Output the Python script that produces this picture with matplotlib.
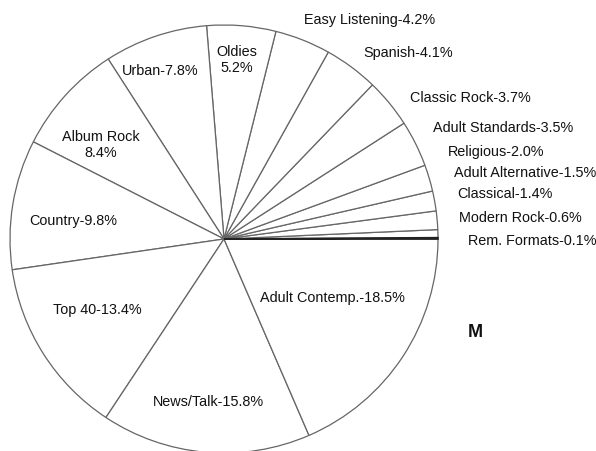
import matplotlib.pyplot as plt

plt.rcParams['font.family'] = ['Liberation Sans', 'DejaVu Sans']

# format shares, counter-clockwise from 3 o'clock
formats = ['Rem. Formats', 'Modern Rock', 'Classical', 'Adult Alternative',
           'Religious', 'Adult Standards', 'Classic Rock', 'Spanish',
           'Easy Listening', 'Oldies', 'Urban', 'Album Rock', 'Country',
           'Top 40', 'News/Talk', 'Adult Contemp.']
shares = [0.1, 0.6, 1.4, 1.5, 2.0, 3.5, 3.7, 4.1, 4.2, 5.2, 7.8, 8.4, 9.8,
          13.4, 15.8, 18.5]
# joiner between name and value ('\n' puts the value on a second line)
joiners = ['-'] * 9 + ['\n', '-', '\n', '-', '-', '-', '-']

# label centres in pixel units (origin top-left)
label_xy = [(532, 241), (520, 218), (505, 194), (525, 173), (496, 152),
            (503, 128), (470, 98), (408, 53), (370, 20), (237, 60),
            (160, 71), (101, 145), (73, 221), (97, 310), (208, 402),
            (332, 298)]

W, H = 596, 452
fig = plt.figure(figsize=(W / 100, H / 100), dpi=100)
ax = fig.add_axes([0, 0, 1, 1])
ax.set_xlim(0, W)
ax.set_ylim(0, H)
ax.set_aspect('equal')
ax.axis('off')

# the tiny first slice reads as a heavy black spoke
fills = ['#222222'] + ['white'] * (len(shares) - 1)

cx, cy, r = 224, H - 240, 214
wedges, _ = ax.pie(shares, startangle=0, counterclock=True, center=(cx, cy),
                   radius=r, colors=fills,
                   wedgeprops=dict(edgecolor='#666666', linewidth=0.9))
wedges[0].set_edgecolor('#222222')
wedges[0].set_linewidth(1.2)
wedges[0].set_zorder(3)
ax.set_xlim(0, W)
ax.set_ylim(0, H)

for name, val, j, (x, y) in zip(formats, shares, joiners, label_xy):
    txt = f'{name}{j}{val:.1f}%'
    ax.text(x, H - y, txt, ha='center', va='center', fontsize=10.4,
            color='#111111', linespacing=1.25)

ax.text(475, H - 333, 'M', ha='center', va='center', fontsize=13,
        fontweight='bold', color='#111111')

fig.savefig('out.png', dpi=100, facecolor='white')
